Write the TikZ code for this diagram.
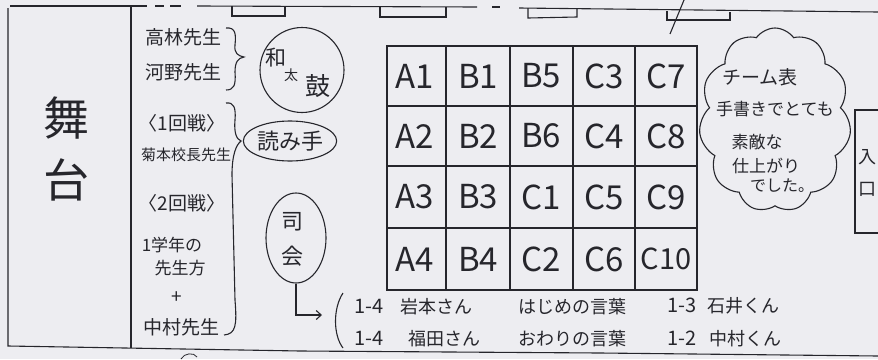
\documentclass[tikz,border=0pt]{standalone}
\usepackage{fontspec}
\setmainfont{Noto Sans CJK JP}
\usetikzlibrary{shapes.geometric,shapes.symbols,arrows.meta}
\definecolor{ink}{RGB}{38,38,44}
\definecolor{paper}{RGB}{237,237,241}
\newcommand{\fsz}[1]{\fontsize{#1}{#1}\selectfont}
\begin{document}
\begin{tikzpicture}[x=1pt,y=-1pt,line width=1.1pt,draw=ink,
  txt/.style={text=ink,inner sep=0pt},
  cell/.style={txt,font=\fsz{33}},
  nm/.style={txt,font=\fsz{19}},
  bt/.style={txt,font=\fsz{18},anchor=west},
  bn/.style={txt,font=\fsz{20},anchor=west},
  cl/.style={txt,font=\fsz{17}},
  ring/.style={draw=ink,ellipse,inner sep=0pt}]
\fill[paper] (0,0) rectangle (878,359);
\useasboundingbox (0,0) rectangle (878,359);
% frame
\draw (10,6) -- (147,6);
\draw (155,6) -- (164,6);
\draw (170,6) -- (181,6);
\draw (197,6) -- (477,7);
\draw (492,7) -- (500,7);
\draw (519,8) -- (878,12);
\draw (232,6) -- (232,16) -- (285,16) -- (285,6);
\draw (380,7) -- (380,17) -- (446,17) -- (446,7);
\draw (528,8) -- (528,18) -- (577,17) -- (577,8);
\draw (667,11) -- (667,20) -- (730,20) -- (730,12);
\draw (684,0) -- (670,34);
\draw (8,8) -- (8,346) -- (300,351) -- (600,353) -- (878,356);
\draw (131,6) -- (131,348);
% bottom fragments
\draw[line width=0.8pt] (181,359) .. controls (184,353) and (194,352) .. (197,357);
% stage
\node[txt,font=\fsz{46}] (bu) at (66,118) {舞};
\node[txt,font=\fsz{46}] (tai) at (66,180) {台};
% names
\node[nm] (takabayashi) at (183,37) {高林先生};
\node[nm] (kawano) at (183,72) {河野先生};
\node[nm] (round1) at (182,123) {〈1回戦〉};
\node[txt,font=\fsz{15}] (kikumoto) at (186,155) {菊本校長先生};
\node[nm] (round2) at (182,203) {〈2回戦〉};
\node[txt,font=\fsz{17}] (gakunen) at (172,245) {1学年の};
\node[txt,font=\fsz{17}] (senseigata) at (180,268) {先生方};
\node[nm] (plus) at (177,298) {+};
\node[nm] (nakamura) at (181,327) {中村先生};
% braces
\draw (226,28) .. controls (236,27) and (236,35) .. (235,45) .. controls (234,53) and (238,56) .. (244,57) .. controls (238,58) and (235,62) .. (235,72) .. controls (236,85) and (234,90) .. (226,90);
\draw (226,103) .. controls (234,102) and (236,108) .. (235,120) .. controls (234,132) and (236,139) .. (241,141) .. controls (236,145) and (232,155) .. (232,175) -- (235,300) .. controls (237,325) and (236,334) .. (224,335);
% circles
\node[ring,minimum width=84pt,minimum height=85pt] (wadaiko) at (302,70) {};
\node[txt,font=\fsz{21}] (wa) at (276,58) {和};
\node[txt,font=\fsz{14}] (ta) at (291,75) {太};
\node[txt,font=\fsz{25}] (ko) at (318,86) {鼓};
\node[ring,minimum width=90pt,minimum height=40pt,text=ink,font=\fsz{22}] (yomite) at (290,141) {読み手};
\node[ring,minimum width=60pt,minimum height=90pt] (shikai) at (296,238) {};
\node[txt,font=\fsz{22}] (shi) at (292,222) {司};
\node[txt,font=\fsz{22}] (kai) at (292,256) {会};
\coordinate (arrowend) at (322,315);
\draw[-{Straight Barb[length=5pt,width=9pt]}] (shikai.south) |- (arrowend);
\draw (343,293) .. controls (333,308) and (333,335) .. (343,348);
% table
\draw (387,46) rectangle (697,290);
\foreach \x in {446,510,573,635} \draw (\x,46) -- (\x,290);
\foreach \y in {106,166,228} \draw (387,\y) -- (697,\y);
\node[cell] (a1) at (415,76) {A1};
\node[cell] (b1) at (478,76) {B1};
\node[cell] (b5) at (541,76) {B5};
\node[cell] (c3) at (604,76) {C3};
\node[cell] (c7) at (666,76) {C7};
\node[cell] (a2) at (415,136) {A2};
\node[cell] (b2) at (478,136) {B2};
\node[cell] (b6) at (541,136) {B6};
\node[cell] (c4) at (604,136) {C4};
\node[cell] (c8) at (666,136) {C8};
\node[cell] (a3) at (415,197) {A3};
\node[cell] (b3) at (478,197) {B3};
\node[cell] (c1) at (541,197) {C1};
\node[cell] (c5) at (604,197) {C5};
\node[cell] (c9) at (666,197) {C9};
\node[cell] (a4) at (415,259) {A4};
\node[cell] (b4) at (478,259) {B4};
\node[cell] (c2) at (541,259) {C2};
\node[cell] (c6) at (604,259) {C6};
\node[cell,font=\fsz{29}] (c10) at (666,259) {C10};
% bottom text
\node[bn] (n1) at (354,306) {1-4};
\node[bt] (iwamoto) at (400,307) {岩本さん};
\node[bt] (hajime) at (518,307) {はじめの言葉};
\node[bn] (n3) at (667,305) {1-3};
\node[bt] (ishii) at (707,306) {石井くん};
\node[bn] (n4) at (354,338) {1-4};
\node[bt] (fukuda) at (408,339) {福田さん};
\node[bt] (owari) at (518,339) {おわりの言葉};
\node[bn] (n2) at (667,338) {1-2};
\node[bt] (nakamurakun) at (709,339) {中村くん};
% cloud
\node[cloud,draw=ink,cloud puffs=11,cloud puff arc=110,aspect=0.85,minimum width=152pt,minimum height=184pt] (cloud) at (775,120) {};
\node[txt,font=\fsz{19}] (t1) at (760,77) {チーム表};
\node[cl] (t2) at (775,109) {手書きでとても};
\node[cl] (t3) at (757,142) {素敵な};
\node[cl] (t4) at (766,166) {仕上がり};
\node[txt,font=\fsz{16}] (t5) at (782,186) {でした。};
% entrance
\draw (878,110) -- (855,110) -- (855,233) -- (878,233);
\node[txt,font=\fsz{18}] (iri) at (867,157) {入};
\node[txt,font=\fsz{18}] (guchi) at (867,189) {口};
\end{tikzpicture}
\end{document}
